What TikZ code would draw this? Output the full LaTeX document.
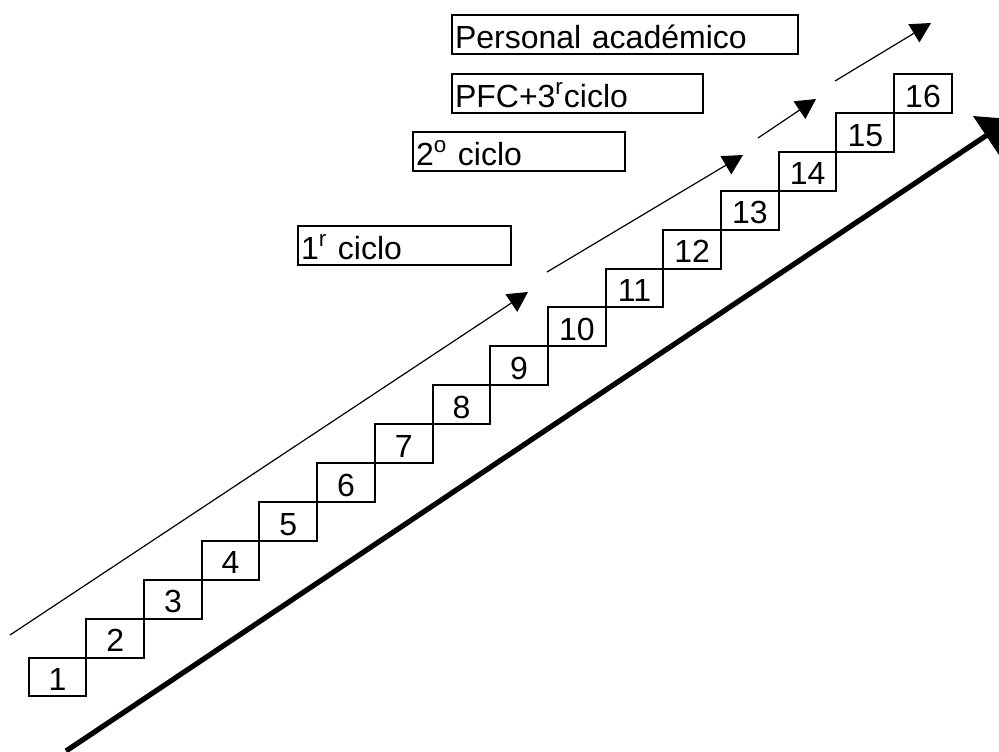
\documentclass[tikz,border=0pt]{standalone}
\usepackage{fontspec}
\setsansfont{Liberation Sans}
\usetikzlibrary{arrows.meta,positioning}
\tikzset{every picture/.style={/utils/exec={\sffamily\fontsize{16}{19}\selectfont}}}

\begin{document}
\begin{tikzpicture}[x=0.5pt, y=-0.5pt, line width=1pt,
    stair/.style={rectangle, draw, inner sep=0pt, outer sep=0pt, minimum width=28.85pt, minimum height=19.45pt, text height=0.85em, text depth=0pt},
    cyclebox/.style={rectangle, draw, anchor=north west, inner xsep=1.5pt, inner ysep=0pt, minimum height=19.5pt, text height=0.85em, text depth=0pt, align=left},
    run/.style={line width=0.6pt, -{Triangle[length=10pt,width=10.5pt]}},
    bigrun/.style={line width=2.6pt, -{Triangle[length=15pt,width=23pt]}}]
    \useasboundingbox (0,0) rectangle (999,751);

    % the stairs
    \node[stair] (s1) at (57.5,677) {1};
    \node[stair] (s2) [above right=0pt and 0pt of s1] {2};
    \node[stair] (s3) [above right=0pt and 0pt of s2] {3};
    \node[stair] (s4) [above right=0pt and 0pt of s3] {4};
    \node[stair] (s5) [above right=0pt and 0pt of s4] {5};
    \node[stair] (s6) [above right=0pt and 0pt of s5] {6};
    \node[stair] (s7) [above right=0pt and 0pt of s6] {7};
    \node[stair] (s8) [above right=0pt and 0pt of s7] {8};
    \node[stair] (s9) [above right=0pt and 0pt of s8] {9};
    \node[stair] (s10) [above right=0pt and 0pt of s9] {10};
    \node[stair] (s11) [above right=0pt and 0pt of s10] {11};
    \node[stair] (s12) [above right=0pt and 0pt of s11] {12};
    \node[stair] (s13) [above right=0pt and 0pt of s12] {13};
    \node[stair] (s14) [above right=0pt and 0pt of s13] {14};
    \node[stair] (s15) [above right=0pt and 0pt of s14] {15};
    \node[stair] (s16) [above right=0pt and 0pt of s15] {16};

    % the cycles
    \node[cyclebox, text width=170pt] (pers) at (451,14) {Personal académico};
    \node[cyclebox, text width=122.5pt] (pfc) at (451,73) {PFC+3\textsuperscript{r}ciclo};
    \node[cyclebox, text width=103pt] (seg) at (412,131) {2\textsuperscript{o} ciclo};
    \node[cyclebox, text width=103.5pt] (pri) at (297,225) {1\textsuperscript{r} ciclo};

    % arrow ends
    \coordinate (r1a) at (10,635);
    \coordinate (r1b) at (528,292);
    \coordinate (r2a) at (547,272);
    \coordinate (r2b) at (743,155);
    \coordinate (r3a) at (758,138);
    \coordinate (r3b) at (816,99);
    \coordinate (r4a) at (835,81);
    \coordinate (r4b) at (931,23);
    \coordinate (ba) at (66,751);
    \coordinate (bb) at (1011,119);

    \draw[run] (r1a) -- (r1b);
    \draw[run] (r2a) -- (r2b);
    \draw[run] (r3a) -- (r3b);
    \draw[run] (r4a) -- (r4b);
    \draw[bigrun] (ba) -- (bb);

\end{tikzpicture}
\end{document}
